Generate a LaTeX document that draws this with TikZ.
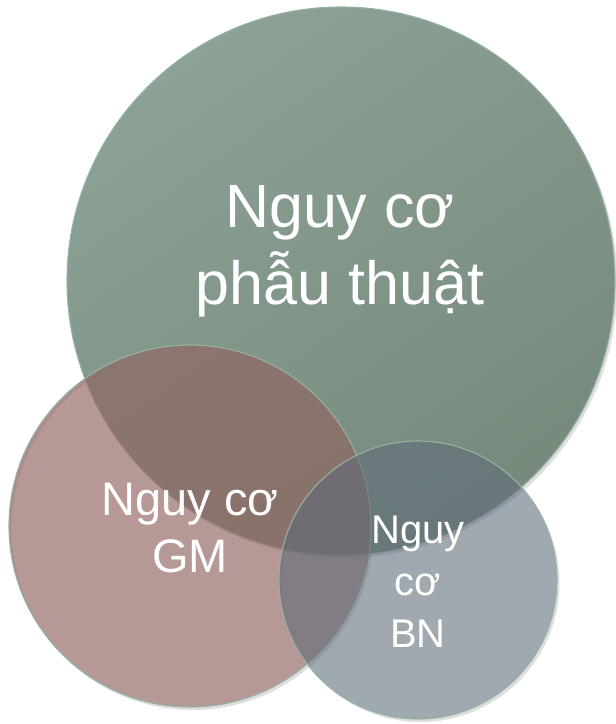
\documentclass[tikz,border=0pt]{standalone}
\usepackage{fontspec}
\setmainfont{Liberation Sans}
\definecolor{bigTop}{RGB}{140,162,150}
\definecolor{bigBot}{RGB}{118,138,124}
\definecolor{gmFill}{RGB}{144,100,96}
\definecolor{bnFill}{RGB}{94,107,121}
\definecolor{rimCol}{RGB}{150,178,160}
\begin{document}
\begin{tikzpicture}[x=1pt,y=-1pt,
  lbl/.style={text=white, inner sep=0pt, anchor=base},
  rim/.style={draw=rimCol, line width=1.1pt},
  crescent/.style={fill=black, fill opacity=0.13, even odd rule},
  bigfont/.style={font=\fontsize{61}{77}\selectfont},
  gmfont/.style={font=\fontsize{47}{57}\selectfont},
  bnfont/.style={font=\fontsize{40}{52}\selectfont}]
\useasboundingbox (0,0) rectangle (616,724);

% circle centres
\coordinate (cBig) at (341,281);
\coordinate (cGM) at (190,526);
\coordinate (cBN) at (418,580);

% soft drop shadows (outside rims only)
\fill[crescent] (343.5,284) circle (274) (cBig) circle (274);
\fill[crescent] (192.5,529) circle (181) (cGM) circle (181);
\fill[crescent] (420.5,583) circle (139) (cBN) circle (139);

% big circle
\shade[top color=bigTop, bottom color=bigBot, shading angle=35] (cBig) circle (274);
\draw[rim] (cBig) circle (274);

% GM circle
\fill[gmFill, fill opacity=0.66] (cGM) circle (181);
\draw[rim] (cGM) circle (181);

% BN circle
\fill[bnFill, fill opacity=0.59] (cBN) circle (139);
\draw[rim] (cBN) circle (139);

% labels: big circle
\node[lbl, bigfont] (t1) at (340,227) {Nguy cơ};
\node[lbl, bigfont] (t2) at (340,304) {phẫu thuật};

% labels: GM circle
\node[lbl, gmfont] (t3) at (190,515) {Nguy cơ};
\node[lbl, gmfont] (t4) at (190,572) {GM};

% labels: BN circle
\node[lbl, bnfont] (t5) at (418,543) {Nguy};
\node[lbl, bnfont] (t6) at (418,595) {cơ};
\node[lbl, bnfont] (t7) at (418,647) {BN};
\end{tikzpicture}
\end{document}
